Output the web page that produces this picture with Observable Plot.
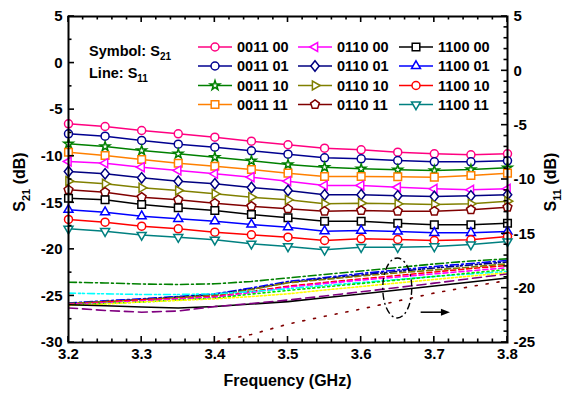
<!DOCTYPE html>
<html><head><meta charset="utf-8">
<script src="https://cdn.jsdelivr.net/npm/d3@7"></script>
<script src="https://cdn.jsdelivr.net/npm/@observablehq/plot@0.6"></script>
<style>
html,body{margin:0;padding:0;background:#fff;}
#chart svg{display:block;}
</style></head><body><div id="chart"></div>
<script>
// ---------- data ----------
const freq = [3.2, 3.25, 3.3, 3.35, 3.4, 3.45, 3.5, 3.55, 3.6, 3.65, 3.7, 3.75, 3.8];
const codes = ["0011 00","0011 01","0011 10","0011 11","0110 00","0110 01","0110 10","0110 11","1100 00","1100 01","1100 10","1100 11"];

// S21 (dB), left axis
const s21_0011_00 = [-6.52,-6.81,-7.24,-7.59,-7.96,-8.39,-8.77,-9.14,-9.31,-9.57,-9.74,-9.85,-9.74];
const s21_0011_01 = [-7.59,-7.85,-8.31,-8.71,-9.03,-9.42,-9.78,-10.17,-10.28,-10.46,-10.60,-10.60,-10.49];
const s21_0011_10 = [-8.67,-8.96,-9.39,-9.74,-10.11,-10.49,-10.89,-11.18,-11.35,-11.46,-11.53,-11.43,-11.24];
const s21_0011_11 = [-9.57,-9.92,-10.35,-10.75,-11.07,-11.43,-11.82,-12.18,-12.18,-12.21,-12.25,-12.07,-11.82];
const s21_0110_00 = [-10.57,-10.75,-11.18,-11.53,-11.89,-12.25,-12.68,-13.14,-13.14,-13.33,-13.50,-13.61,-13.50];
const s21_0110_01 = [-11.64,-11.89,-12.32,-12.68,-12.96,-13.36,-13.68,-14.14,-14.14,-14.25,-14.32,-14.25,-14.14];
const s21_0110_10 = [-12.68,-12.96,-13.39,-13.68,-14.04,-14.40,-14.68,-15.11,-15.04,-15.11,-15.18,-15.11,-14.83];
const s21_0110_11 = [-13.61,-13.86,-14.40,-14.68,-15.04,-15.37,-15.65,-15.90,-15.83,-15.90,-15.90,-15.75,-15.47];
const s21_1100_00 = [-14.51,-14.68,-15.18,-15.54,-15.83,-16.26,-16.61,-16.98,-16.98,-17.19,-17.36,-17.36,-17.19];
const s21_1100_01 = [-15.75,-16.01,-16.44,-16.72,-16.98,-17.33,-17.62,-18.05,-17.98,-18.08,-18.22,-18.22,-18.08];
const s21_1100_10 = [-16.79,-17.08,-17.51,-17.79,-18.16,-18.44,-18.69,-19.05,-18.87,-18.94,-19.05,-18.97,-18.62];
const s21_1100_11 = [-17.79,-18.05,-18.46,-18.69,-18.97,-19.40,-19.69,-20.05,-19.77,-19.77,-19.69,-19.48,-19.16];

// S11 (dB), right axis
const s11_L1  = [-19.45,-19.52,-19.62,-19.66,-19.60,-19.38,-19.06,-18.74,-18.42,-18.10,-17.77,-17.50,-17.30];
const s11_L2  = [-21.36,-21.16,-20.98,-20.77,-20.52,-19.98,-19.38,-19.02,-18.65,-18.33,-18.00,-17.73,-17.45];
const s11_L3  = [-21.41,-21.23,-21.04,-20.81,-20.58,-20.08,-19.48,-19.11,-18.79,-18.46,-18.14,-17.87,-17.59];
const s11_L4  = [-21.41,-21.24,-21.07,-20.86,-20.67,-20.12,-19.50,-19.20,-18.88,-18.60,-18.33,-18.05,-17.76];
const s11_L5  = [-21.50,-21.27,-21.07,-20.95,-20.77,-20.31,-19.82,-19.48,-19.15,-18.83,-18.51,-18.19,-17.91];
const s11_L6  = [-21.50,-21.36,-21.18,-21.00,-20.83,-20.40,-19.91,-19.57,-19.25,-18.97,-18.68,-18.40,-18.12];
const s11_L7  = [-20.46,-20.52,-20.58,-20.58,-20.52,-20.31,-20.06,-19.75,-19.48,-19.20,-18.92,-18.69,-18.46];
const s11_L8  = [-21.55,-21.41,-21.27,-21.09,-20.92,-20.54,-20.21,-19.89,-19.57,-19.25,-18.92,-18.60,-18.28];
const s11_L9  = [-21.59,-21.46,-21.27,-21.13,-20.98,-20.77,-20.52,-20.17,-19.85,-19.52,-19.20,-18.88,-18.58];
const s11_L10 = [-21.53,-21.62,-21.73,-21.82,-21.69,-21.46,-21.24,-20.88,-20.53,-20.17,-19.80,-19.43,-19.06];
const s11_L11 = [-21.82,-22.05,-22.21,-22.10,-21.69,-21.41,-21.09,-20.72,-20.33,-19.94,-19.54,-19.11,-18.69];
const s11_L12 = [-28.55,-27.65,-26.75,-25.85,-24.95,-24.26,-23.30,-22.59,-21.92,-21.18,-20.45,-19.85,-19.29];

// ticks
const xTicks = [3.2, 3.3, 3.4, 3.5, 3.6, 3.7, 3.8];
const xMinorTicks = [3.22,3.24,3.26,3.28,3.32,3.34,3.36,3.38,3.42,3.44,3.46,3.48,3.52,3.54,3.56,3.58,3.62,3.64,3.66,3.68,3.72,3.74,3.76,3.78];
const yLeftTicks = [-30, -25, -20, -15, -10, -5, 0, 5];
const yLeftMinorTicks = [-27.5, -22.5, -17.5, -12.5, -7.5, -2.5, 2.5];
const yRightTicks = [-25, -20, -15, -10, -5, 0, 5];
const yRightMinorTicks = [-24,-23,-22,-21,-19,-18,-17,-16,-14,-13,-12,-11,-9,-8,-7,-6,-4,-3,-2,-1,1,2,3,4];

// annotation (ellipse around S11 curves and arrow to right axis)
const ellipseNote = [{f: 3.65, v: -24.2}];
const arrowNote = [{f1: 3.682, f2: 3.722, v: -26.8}];

// ---------- styles ----------
const s21List = [s21_0011_00,s21_0011_01,s21_0011_10,s21_0011_11,s21_0110_00,s21_0110_01,s21_0110_10,s21_0110_11,s21_1100_00,s21_1100_01,s21_1100_10,s21_1100_11];
const s11List = [s11_L1,s11_L2,s11_L3,s11_L4,s11_L5,s11_L6,s11_L7,s11_L8,s11_L9,s11_L10,s11_L11,s11_L12];

function poly(pts){ return {draw(ctx, size){ const r = Math.sqrt(size/Math.PI); pts.forEach(([a,b],i)=> i? ctx.lineTo(a*r,b*r): ctx.moveTo(a*r,b*r)); ctx.closePath(); }}; }
const k = 1.3;
const symTriUp = poly([[0,-k],[k*0.866,k*0.5],[-k*0.866,k*0.5]]);
const symTriDown = poly([[0,k],[k*0.866,-k*0.5],[-k*0.866,-k*0.5]]);
const symTriLeft = poly([[-k,0],[k*0.5,-k*0.866],[k*0.5,k*0.866]]);
const symTriRight = poly([[k,0],[-k*0.5,-k*0.866],[-k*0.5,k*0.866]]);
const symDiamond = poly([[0,-1.3],[1.05,0],[0,1.3],[-1.05,0]]);
const symSquare = poly([[-0.95,-0.95],[0.95,-0.95],[0.95,0.95],[-0.95,0.95]]);
const symPentagon = poly(d3.range(5).map(i=>{const a=-Math.PI/2+i*2*Math.PI/5; return [1.15*Math.cos(a),1.15*Math.sin(a)];}));
const symStar = {draw(ctx, size){ d3.symbolStar.draw(ctx, size*0.55); }};
const symCircle = d3.symbolCircle;

const s21Style = [
  {c:"#FF0080", s:symCircle},
  {c:"#000090", s:symCircle},
  {c:"#008000", s:symStar},
  {c:"#FF8000", s:symSquare},
  {c:"#FF00FF", s:symTriLeft},
  {c:"#000080", s:symDiamond},
  {c:"#808000", s:symTriRight},
  {c:"#800000", s:symPentagon},
  {c:"#000000", s:symSquare},
  {c:"#0000FF", s:symTriUp},
  {c:"#FF0000", s:symCircle},
  {c:"#008080", s:symTriDown}
];
const s11Style = [
  {c:"#008000", d:"8,3,2,3"},
  {c:"#0000FF", d:"8,3,2,3"},
  {c:"#000080", d:"7,3,2,2,2,3"},
  {c:"#808000", d:"6,3"},
  {c:"#FF0000", d:"5,3"},
  {c:"#FF00FF", d:"5,3"},
  {c:"#00FFFF", d:"7,3,2,2,2,3"},
  {c:"#00E000", d:"2,3"},
  {c:"#FFFF00", d:"2,2"},
  {c:"#000000", d:null},
  {c:"#800080", d:"9,5"},
  {c:"#800000", d:"2,9"}
];

const toLeft = r => 5 - (5 - r) * 35 / 30;
const fromLeft = l => 5 - (5 - l) * 30 / 35;

const s21Rows = s21List.map(arr => freq.map((f,j)=>({f, v: arr[j]})));
const s11Rows = s11List.map(arr => freq.map((f,j)=>({f, v: toLeft(arr[j])})));

// layout
const W = 564, H = 398, ML = 68, MR = 57, MT = 16, MB = 56;
const MJ = 6, MN = 3.5;

const marks = [];
s11Rows.forEach((rows,i)=>{
  marks.push(Plot.line(rows, {x:"f", y:"v", stroke:s11Style[i].c, strokeWidth:1.6, strokeDasharray:s11Style[i].d, clip:true}));
});
s21Rows.forEach((rows,i)=>{
  marks.push(Plot.line(rows, {x:"f", y:"v", stroke:s21Style[i].c, strokeWidth:1.5}));
  marks.push(Plot.dot(rows, {x:"f", y:"v", symbol:s21Style[i].s, r:4, stroke:s21Style[i].c, fill:"white", strokeWidth:1.5}));
});
marks.push(
  Plot.frame({stroke:"#000", strokeWidth:2}),
  Plot.axisX({anchor:"bottom", ticks:xTicks, tickSize:0, tickPadding:6, tickFormat:d=>d.toFixed(1), label:null}),
  Plot.axisY({anchor:"left", ticks:yLeftTicks, tickSize:0, tickPadding:6, tickFormat:d=>String(d), label:null}),
  Plot.axisY({anchor:"right", ticks:yRightTicks.map(toLeft), tickSize:0, tickPadding:6, tickFormat:d=>String(Math.round(fromLeft(d))), label:null})
);

const chart = Plot.plot({
  width:W, height:H,
  marginLeft:ML, marginRight:MR, marginTop:MT, marginBottom:MB,
  x:{domain:[3.2,3.8]},
  y:{domain:[-30,5]},
  style:{fontFamily:"'Liberation Sans', Arial, sans-serif", fontSize:"15px", fontWeight:"bold", color:"#000", background:"#fff"},
  marks
});
document.getElementById("chart").appendChild(chart);

// ---------- ticks, legend, titles, annotation ----------
const svg = d3.select(chart);
const sx = chart.scale("x"), sy = chart.scale("y");
const X0 = ML, X1 = W - MR, Y0 = MT, Y1 = H - MB;

const tg = svg.append("g").attr("stroke", "#000").attr("stroke-width", 1.6).attr("fill", "none");
function tickLine(x1, y1, x2, y2){ tg.append("line").attr("x1", x1).attr("y1", y1).attr("x2", x2).attr("y2", y2); }
xMinorTicks.forEach(t => { const x = sx.apply(t); tickLine(x, Y1, x, Y1 - MN); tickLine(x, Y0, x, Y0 + MN); });
xTicks.forEach(t => { const x = sx.apply(t); tickLine(x, Y1, x, Y1 - MJ); tickLine(x, Y0, x, Y0 + MJ); });
yLeftMinorTicks.forEach(t => { const y = sy.apply(t); tickLine(X0, y, X0 + MN, y); });
yLeftTicks.forEach(t => { const y = sy.apply(t); tickLine(X0, y, X0 + MJ, y); });
yRightMinorTicks.forEach(t => { const y = sy.apply(toLeft(t)); tickLine(X1, y, X1 - MN, y); });
yRightTicks.forEach(t => { const y = sy.apply(toLeft(t)); tickLine(X1, y, X1 - MJ, y); });

const FONT = "'Liberation Sans', Arial, sans-serif";
const g = svg.append("g").attr("font-family", FONT).attr("font-weight", "bold").attr("fill", "#000").attr("text-anchor", "start");

function subText(parent, x, y, main, sub, rest, size, subSize, rotate) {
  const t = parent.append("text").attr("x", x).attr("y", y).attr("font-size", size).attr("text-anchor", rotate ? "middle" : "start");
  if (rotate) t.attr("transform", `rotate(-90 ${x} ${y})`);
  t.append("tspan").text(main);
  t.append("tspan").attr("font-size", subSize).attr("dy", subSize*0.45).text(sub);
  if (rest) t.append("tspan").attr("dy", -subSize*0.45).text(rest);
  return t;
}
subText(g, 89, 55.5, "Symbol: S", "21", "", 14.5, 10);
subText(g, 89, 77.5, "Line: S", "11", "", 14.5, 10);
subText(g, 25, 182, "S", "21", " (dB)", 16, 11, true);
subText(g, 556, 182, "S", "11", " (dB)", 16, 11, true);
g.append("text").attr("x", (X0 + X1) / 2).attr("y", 386).attr("text-anchor", "middle").attr("font-size", 16).text("Frequency (GHz)");

const legCols = [198, 298, 399];
const legRows = [47, 66, 85.5, 104.5];
codes.forEach((c, i) => {
  const col = Math.floor(i / 4), row = i % 4;
  const x0 = legCols[col], y0 = legRows[row], st = s21Style[i];
  const lg = g.append("g");
  lg.append("line").attr("x1", x0).attr("x2", x0 + 34).attr("y1", y0).attr("y2", y0).attr("stroke", st.c).attr("stroke-width", 1.5);
  lg.append("path").attr("d", d3.symbol(st.s, Math.PI * 16)()).attr("transform", `translate(${x0 + 17},${y0})`)
    .attr("fill", "white").attr("stroke", st.c).attr("stroke-width", 1.5);
  lg.append("text").attr("x", x0 + 39).attr("y", y0 + 5).attr("font-size", 14.5).attr("text-anchor", "start").text(c);
});

ellipseNote.forEach(e => {
  g.append("ellipse").attr("cx", sx.apply(e.f)).attr("cy", sy.apply(e.v)).attr("rx", 14.5).attr("ry", 30)
    .attr("fill", "none").attr("stroke", "#000").attr("stroke-width", 1.4).attr("stroke-dasharray", "7,3,2,3");
});
arrowNote.forEach(a => {
  const x1 = sx.apply(a.f1), x2 = sx.apply(a.f2), y = sy.apply(a.v);
  g.append("line").attr("x1", x1).attr("x2", x2 - 6).attr("y1", y).attr("y2", y).attr("stroke", "#000").attr("stroke-width", 1.5);
  g.append("path").attr("d", `M${x2},${y}L${x2 - 9},${y - 3.5}L${x2 - 9},${y + 3.5}Z`).attr("fill", "#000");
});
</script>
</body></html>
